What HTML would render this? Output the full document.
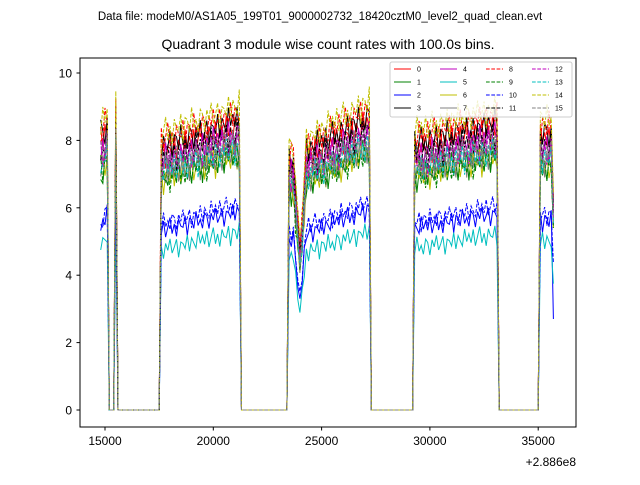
<!DOCTYPE html>
<html><head><meta charset="utf-8"><style>
body{margin:0;background:#fff;}
svg text{font-family:"Liberation Sans","DejaVu Sans",sans-serif;}
</style></head><body>
<svg id="chart" width="640" height="480" viewBox="0 0 640 480" xmlns="http://www.w3.org/2000/svg">
<rect width="640" height="480" fill="#fff"/>
<text x="320" y="20" font-size="11.5" text-anchor="middle">Data file: modeM0/AS1A05_199T01_9000002732_18420cztM0_level2_quad_clean.evt</text>
<text x="328" y="49" font-size="14" text-anchor="middle">Quadrant 3 module wise count rates with 100.0s bins.</text>
<g id="marks"></g>
<rect x="80" y="58" width="496" height="369" fill="none" stroke="#000" stroke-width="1"/>
<g id="axes"></g>
<text x="576" y="466" font-size="12" text-anchor="end">+2.886e8</text>
<g id="legend"></g>
</svg>
<script>
const segments=[[14800,15100],[15500,15500],[17600,21200],[23500,27200],[29300,33100],[35100,35700]];
const segTrendStart=[0.97,1.0,0.95,0.9,0.96,1.0];
const segTrendGain=[0.06,0,0.1,0.16,0.08,0];
const seriesLabels=["0","1","2","3","4","5","6","7","8","9","10","11","12","13","14","15"];
const seriesLevels=[8.0,7.2,5.6,8.2,7.8,5.0,7.2,7.3,8.4,7.2,5.8,7.8,7.6,7.4,8.6,7.6];
const noise=[0.3,-0.2,0.5,-0.4,0.1,0.6,-0.3,0.2,-0.5,0.4,0.0,-0.1,0.5,-0.6,0.3,0.2,-0.3,0.6,-0.2,0.1,-0.4,0.4,0.2,-0.5,0.3,-0.1,0.5,-0.3,0.0,0.4,-0.6,0.2,0.1,-0.2,0.5,-0.4,0.3,0.0,-0.3,0.6,-0.1];
const dipTimes=[23800,23900,24000,24100,24200];
const dipFactors=[0.85,0.75,0.62,0.72,0.88];
const xTicks=[15000,20000,25000,30000,35000];
const yTicks=[0,2,4,6,8,10];
const colors=["#ff0000","#008000","#0000ff","#000000","#bf00bf","#00bfbf","#bfbf00","#808080","#ff0000","#008000","#0000ff","#000000","#bf00bf","#00bfbf","#bfbf00","#808080"];
const NS="http://www.w3.org/2000/svg";
function xs(t){return 105+(t-15000)/5000*108.3;}
function ys(v){return 410-v*33.7;}
function segIndex(t){for(let i=0;i<segments.length;i++){if(t>=segments[i][0]&&t<=segments[i][1])return i;}return -1;}
const times=[];for(let t=14800;t<=35700;t+=100)times.push(t);
const marks=document.getElementById('marks');
seriesLevels.forEach((lvl,s)=>{
  const pts=times.map((t,i)=>{
    const si=segIndex(t);let v=0;
    if(si>=0){
      const seg=segments[si];
      const frac=seg[1]>seg[0]?(t-seg[0])/(seg[1]-seg[0]):0.5;
      v=lvl*(segTrendStart[si]+segTrendGain[si]*frac)+noise[(i+s*7)%noise.length]*(lvl<6?0.55:0.8);
      const di=dipTimes.indexOf(t);if(di>=0)v*=dipFactors[di];
      if(si===0&&i===0)v=lvl*(s%3===0?1.05:0.95);
      if(si===5&&t===35700)v=(s===2?2.7:lvl*0.75);
      if(si===1)v=lvl*1.1;
    }
    return xs(t).toFixed(1)+","+ys(Math.max(0,v)).toFixed(1);
  });
  const pl=document.createElementNS(NS,'polyline');
  
  
  pl.setAttribute('points',pts.join(' '));
  pl.setAttribute('fill','none');
  pl.setAttribute('stroke',colors[s]);
  pl.setAttribute('stroke-width','1');
  if(s>=8)pl.setAttribute('stroke-dasharray','3.7,1.6');
  marks.appendChild(pl);
});
const axes=document.getElementById('axes');
xTicks.forEach(t=>{
  const l=document.createElementNS(NS,'line');
  
  
  l.setAttribute('x1',xs(t));l.setAttribute('x2',xs(t));l.setAttribute('y1',427);l.setAttribute('y2',430.5);l.setAttribute('stroke','#000');
  axes.appendChild(l);
  const tx=document.createElementNS(NS,'text');
  
  
  tx.setAttribute('x',xs(t));tx.setAttribute('y',445);tx.setAttribute('font-size','12');tx.setAttribute('text-anchor','middle');
  tx.textContent=t;axes.appendChild(tx);
});
yTicks.forEach(v=>{
  const l=document.createElementNS(NS,'line');
  
  
  l.setAttribute('x1',76.5);l.setAttribute('x2',80);l.setAttribute('y1',ys(v));l.setAttribute('y2',ys(v));l.setAttribute('stroke','#000');
  axes.appendChild(l);
  const tx=document.createElementNS(NS,'text');
  
  
  tx.setAttribute('x',72);tx.setAttribute('y',ys(v)+4.5);tx.setAttribute('font-size','12');tx.setAttribute('text-anchor','end');
  tx.textContent=v;axes.appendChild(tx);
});
const lg=document.getElementById('legend');
const box=document.createElementNS(NS,'rect');


box.setAttribute('x',390);box.setAttribute('y',62);box.setAttribute('width',182);box.setAttribute('height',55);box.setAttribute('rx',2);
box.setAttribute('fill','#fff');box.setAttribute('fill-opacity','0.8');box.setAttribute('stroke','#ccc');
lg.appendChild(box);
seriesLabels.forEach((lab,s)=>{
  const col=Math.floor(s/4),row=s%4;
  const x0=394+col*46,y0=69+row*13;
  const l=document.createElementNS(NS,'line');
  
  
  l.setAttribute('x1',x0);l.setAttribute('x2',x0+17);l.setAttribute('y1',y0);l.setAttribute('y2',y0);
  l.setAttribute('stroke',colors[s]);l.setAttribute('stroke-width','1');
  if(s>=8)l.setAttribute('stroke-dasharray','3.7,1.6');
  lg.appendChild(l);
  const tx=document.createElementNS(NS,'text');
  
  
  tx.setAttribute('x',x0+23);tx.setAttribute('y',y0+2.5);tx.setAttribute('font-size','7');
  tx.textContent=lab;lg.appendChild(tx);
});
</script>
</body></html>
